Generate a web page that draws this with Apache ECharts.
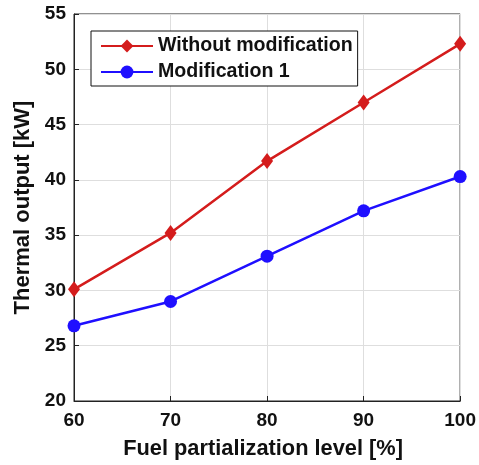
<!DOCTYPE html>
<html>
<head>
<meta charset="utf-8">
<script src="https://cdn.jsdelivr.net/npm/echarts@6/dist/echarts.min.js"></script>
<style>
  html, body { margin: 0; padding: 0; background: #fff; }
  #main { width: 479px; height: 465px; }
</style>
</head>
<body>
<div id="main"></div>
<script>
// data
var levels = [60, 70, 80, 90, 100];
var withoutMod = [30.1, 35.2, 41.7, 47.0, 52.3];
var mod1 = [26.8, 29.0, 33.1, 37.2, 40.3];

var font = 'Liberation Sans, Arial, sans-serif';
var chart = echarts.init(document.getElementById('main'));

var option = {
    backgroundColor: '#fff',
    animation: false,
    grid: {
        left: 74, right: 18, top: 14, bottom: 64,
        show: true, borderColor: '#222', borderWidth: 1
    },
    legend: {
        orient: 'vertical',
        left: 91, top: 31,
        padding: [5, 5, 4, 9],
        itemWidth: 52, itemHeight: 16, itemGap: 6,
        borderColor: '#111', borderWidth: 1,
        backgroundColor: '#fff',
        textStyle: { fontFamily: font, fontWeight: 'bold', fontSize: 19.6, color: '#111' },
        data: ['Without modification', 'Modification 1']
    },
    xAxis: {
        type: 'value', min: 60, max: 100, interval: 10,
        name: 'Fuel partialization level [%]',
        nameLocation: 'middle', nameGap: 37,
        nameTextStyle: { fontFamily: font, fontWeight: 'bold', fontSize: 21.8, color: '#111', padding: [0, 8, 0, 0] },
        axisLine: { show: true, lineStyle: { color: '#222' } },
        axisTick: { show: true, inside: true, length: 5, lineStyle: { color: '#222' } },
        axisLabel: { fontFamily: font, fontWeight: 'bold', fontSize: 19, color: '#111', margin: 10 },
        splitLine: { show: true, lineStyle: { color: '#dedede' } }
    },
    yAxis: {
        type: 'value', min: 20, max: 55, interval: 5,
        name: 'Thermal output [kW]',
        nameLocation: 'middle', nameGap: 39,
        nameTextStyle: { fontFamily: font, fontWeight: 'bold', fontSize: 22, color: '#111' },
        axisLine: { show: true, lineStyle: { color: '#222' } },
        axisTick: { show: true, inside: true, length: 5, lineStyle: { color: '#222' } },
        axisLabel: { fontFamily: font, fontWeight: 'bold', fontSize: 19, color: '#111', margin: 8 },
        splitLine: { show: true, lineStyle: { color: '#dedede' } }
    },
    series: [
        {
            name: 'Without modification',
            type: 'line',
            data: levels.map(function (x, i) { return [x, withoutMod[i]]; }),
            color: '#d41c1c',
            lineStyle: { width: 2.5 },
            symbol: 'diamond', symbolSize: [12, 16],
            itemStyle: { color: '#d41c1c' }
        },
        {
            name: 'Modification 1',
            type: 'line',
            data: levels.map(function (x, i) { return [x, mod1[i]]; }),
            color: '#1f0fff',
            lineStyle: { width: 2.5 },
            symbol: 'circle', symbolSize: 13,
            itemStyle: { color: '#1f0fff' }
        }
    ]
};
chart.setOption(option);
</script>
</body>
</html>
